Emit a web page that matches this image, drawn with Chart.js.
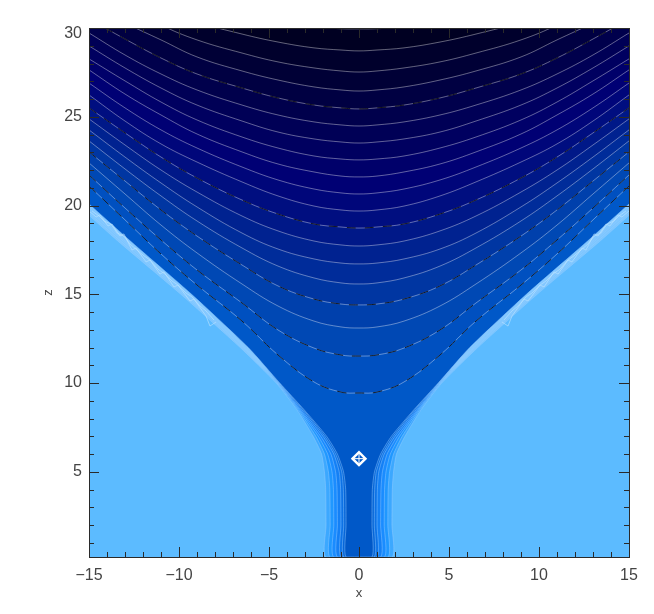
<!DOCTYPE html>
<html lang="en">
<head>
    <meta charset="UTF-8">
    <title>Contours x-z</title>
    <script src="https://cdn.jsdelivr.net/npm/chart.js"></script>
    <style>
        body { margin: 0; background: #ffffff; }
        canvas { display: block; }
    </style>
</head>
<body>
    <canvas id="chart" width="654" height="614"></canvas>

    <script>
        const xTicks = [-15, -10, -5, 0, 5, 10, 15];
        const zTicks = [5, 10, 15, 20, 25, 30];

        // left half of the contours, the picture is mirrored around x = 0
        const xGrid = [-15, -13, -11, -9, -6.5, -4.5, -2.5, -1, 0];
        const z00 = [34.96, 33.83, 32.71, 31.58, 30.85, 30.40, 30.06, 29.96, 29.95];
        const z01 = [33.27, 32.03, 31.13, 30.34, 29.66, 29.21, 28.88, 28.76, 28.71];
        const z02 = [32.43, 31.30, 30.17, 29.33, 28.59, 28.09, 27.75, 27.58, 27.52];
        const z03 = [31.30, 30.28, 29.33, 28.37, 27.58, 27.07, 26.68, 26.51, 26.45];
        const z04 = [30.51, 29.38, 28.31, 27.41, 26.62, 26.06, 25.66, 25.50, 25.44];
        const z05 = [29.72, 28.48, 27.41, 26.51, 25.66, 25.10, 24.71, 24.54, 24.48];
        const z06 = [28.99, 27.75, 26.62, 25.66, 24.76, 24.14, 23.75, 23.58, 23.52];
        const z07 = [28.26, 27.02, 25.83, 24.82, 23.86, 23.24, 22.79, 22.62, 22.57];
        const z08 = [27.64, 26.28, 25.10, 24.03, 23.02, 22.34, 21.89, 21.66, 21.61];
        const z09 = [26.90, 25.50, 24.26, 23.24, 22.17, 21.44, 20.93, 20.71, 20.65];
        const z10 = [26.23, 24.76, 23.47, 22.45, 21.33, 20.54, 19.97, 19.75, 19.69];
        const z11 = [25.50, 24.09, 22.73, 21.55, 20.31, 19.52, 18.96, 18.79, 18.73];
        const z12 = [24.88, 23.41, 22.00, 20.76, 19.41, 18.57, 18.00, 17.78, 17.72];
        const z13 = [24.26, 22.73, 21.27, 19.92, 18.45, 17.55, 16.99, 16.76, 16.71];
        const z14 = [23.64, 22.06, 20.54, 19.13, 17.61, 16.59, 15.92, 15.64, 15.58];
        const z15 = [23.02, 21.38, 19.75, 18.28, 16.65, 15.47, 14.73, 14.45, 14.40];
        const z16 = [22.40, 20.65, 18.90, 17.33, 15.58, 14.34, 13.49, 13.16, 13.10];
        const z17 = [21.72, 19.86, 18.06, 16.37, 14.51, 12.99, 11.97, 11.58, 11.52];
        const z18 = [21.10, 19.19, 17.27, 15.52, 13.49, 11.58, 10.06, 9.49, 9.44];

        // the walls around the column, x read at fixed heights
        const zRows = [22, 18, 15, 12, 10, 8.5, 7, 6, 5, 4, 2, 0.2];
        const wall0 = [-17.8, -13.4, -9.9, -6.6, -4.6, -3.45, -2.55, -2.08, -1.92, -1.85, -1.83, -1.83];
        const wall1 = [-17.65, -13.25, -9.75, -6.5, -4.55, -3.38, -2.4, -1.92, -1.7, -1.62, -1.6, -1.6];
        const wall2 = [-17.5, -13.1, -9.65, -6.42, -4.52, -3.32, -2.26, -1.74, -1.5, -1.42, -1.4, -1.4];
        const wall3 = [-17.4, -13, -9.55, -6.35, -4.5, -3.26, -2.13, -1.56, -1.3, -1.22, -1.2, -1.2];
        const wall4 = [-17.3, -12.9, -9.45, -6.28, -4.46, -3.18, -2.0, -1.4, -1.1, -1.02, -1, -1];
        const wall5 = [-17.2, -12.8, -9.38, -6.2, -4.43, -3.1, -1.9, -1.3, -0.96, -0.87, -0.85, -0.85];
        const wall6 = [-17.1, -12.7, -9.3, -6.15, -4.4, -3.05, -1.8, -1.2, -0.86, -0.74, -0.72, -0.72];

        // pale jagged edge of the walls higher up
        const jagAx = [-15, -14.61, -14.39, -13.94, -13.72, -13.28, -13.06, -12.61, -12.39, -11.83, -11.61, -11.06, -10.83, -10.28, -10.06, -9.39, -9.17, -8.5, -8.28, -7.94];
        const jagAz = [19.69, 19.35, 19.47, 18.85, 18.96, 18.28, 18.40, 17.49, 17.61, 16.82, 16.93, 16.14, 16.26, 15.41, 15.52, 14.62, 14.73, 13.78, 13.21, 13.44];
        const jagBx = [-14.83, -14.44, -14.17, -13.78, -13.44, -13.06, -12.72, -12.33, -11.94, -11.61, -11.17, -10.78, -10.39, -10.06, -9.61, -9.28, -8.83, -8.5, -8.06];
        const jagBz = [19.69, 19.41, 19.13, 18.96, 18.45, 18.28, 17.83, 17.49, 17.16, 16.93, 16.42, 16.14, 15.75, 15.52, 15.07, 14.85, 14.34, 14.06, 13.55];

        const wallRows = [wall0, wall1, wall2, wall3, wall4, wall5, wall6];
        const levelRows = [z18, z17, z16, z15, z14, z13, z12, z11, z10, z09, z08, z07, z06, z05, z04, z03, z02, z01, z00];

        const floorColor = '#5cbbff';
        const paleWallColor = '#7cc6ff';
        const wallColors = ['#3ca8ff', '#2098ff', '#1a8cff', '#1480f5', '#0c72e6', '#0666d8', '#0058c8'];
        const levelColors = ['#0050c0', '#0048b4', '#0040ac', '#0036a2', '#002c9a', '#002290', '#001888', '#000e80',
            '#00067a', '#000074', '#00006a', '#000060', '#000056', '#00004c', '#000042', '#000036', '#00002c', '#000022', '#000018'];
        const dashedLevels = [0, 1, 3, 7, 14]; // positions in levelRows

        const xNull = [0];
        const zNull = [5.74];

        function mirrored(xs, zs) {
            const left = xs.map((x, i) => ({ x: x, y: zs[i] }));
            const right = left.slice().reverse().filter(p => p.x !== 0).map(p => ({ x: -p.x, y: p.y }));
            return left.concat(right);
        }

        // the wall bands turn pale above the narrow part of the column
        function wallFill(chart, color) {
            const yScale = chart.scales.y;
            if (!chart.chartArea || !yScale) return color;
            const g = chart.ctx.createLinearGradient(0, yScale.getPixelForValue(11), 0, yScale.getPixelForValue(9));
            g.addColorStop(0, paleWallColor);
            g.addColorStop(1, color);
            return g;
        }

        const datasets = [];
        let layer = 1000;

        // light ground first, every next band is painted above its contour
        datasets.push({
            data: [{ x: -15, y: 0.2 }, { x: 15, y: 0.2 }],
            showLine: true, fill: 'end', backgroundColor: floorColor, borderWidth: 0, pointRadius: 0, order: layer--
        });

        wallRows.forEach((row, i) => {
            datasets.push({
                data: mirrored(row, zRows),
                showLine: true, fill: 'end',
                backgroundColor: i < wallRows.length - 1 ? (c => wallFill(c.chart, wallColors[i])) : wallColors[i],
                borderColor: 'rgba(150, 205, 255, 0.45)', borderWidth: 1,
                pointRadius: 0, tension: 0.2, order: layer--
            });
        });

        levelRows.forEach((row, i) => {
            datasets.push({
                data: mirrored(xGrid, row),
                showLine: true, fill: 'end', backgroundColor: levelColors[i],
                borderColor: 'rgba(255, 255, 255, 0.38)', borderWidth: 1,
                pointRadius: 0, tension: 0.4, order: layer--
            });
        });

        // black dashes on top of every dashed contour
        dashedLevels.forEach(i => {
            datasets.push({
                data: mirrored(xGrid, levelRows[i]),
                showLine: true, fill: false, borderColor: 'rgba(0, 0, 0, 0.8)', borderWidth: 1, borderDash: [9, 9],
                pointRadius: 0, tension: 0.4, order: 3
            });
        });

        // jagged edge, both sides
        [[jagAx, jagAz], [jagBx, jagBz]].forEach(pair => {
            [1, -1].forEach(side => {
                datasets.push({
                    data: pair[0].map((x, i) => ({ x: x * side, y: pair[1][i] })),
                    showLine: true, fill: false, borderColor: 'rgba(190, 228, 255, 0.6)', borderWidth: 1,
                    pointRadius: 0, order: 4
                });
            });
        });

        // null point marker
        datasets.push({
            data: [{ x: xNull[0], y: zNull[0] }],
            showLine: false, pointStyle: 'rectRot', pointRadius: 6.5, pointBorderWidth: 2.4,
            pointBorderColor: '#ffffff', pointBackgroundColor: 'rgba(0, 0, 0, 0)', order: 1
        });
        datasets.push({
            data: [{ x: xNull[0], y: zNull[0] }],
            showLine: false, pointStyle: 'cross', pointRadius: 5, pointBorderWidth: 1,
            pointBorderColor: '#ffffff', order: 0
        });

        // ticks point inwards on all four sides, like the frame of the original plot
        const frameTicks = {
            id: 'frameTicks',
            afterDatasetsDraw(chart) {
                const { ctx, chartArea: a, scales } = chart;
                ctx.save();
                ctx.strokeStyle = '#2a2a2a';
                ctx.lineWidth = 1;
                ctx.beginPath();
                for (let v = -15; v <= 15; v++) {
                    const len = v % 5 === 0 ? 10 : 5;
                    const px = Math.round(scales.x.getPixelForValue(v)) + 0.5;
                    ctx.moveTo(px, a.bottom); ctx.lineTo(px, a.bottom - len);
                    ctx.moveTo(px, a.top); ctx.lineTo(px, a.top + len);
                }
                for (let v = 1; v <= 30; v++) {
                    const len = v % 5 === 0 ? 10 : 5;
                    const py = Math.round(scales.y.getPixelForValue(v)) + 0.5;
                    ctx.moveTo(a.left, py); ctx.lineTo(a.left + len, py);
                    ctx.moveTo(a.right, py); ctx.lineTo(a.right - len, py);
                }
                ctx.stroke();
                ctx.strokeRect(a.left + 0.5, a.top + 0.5, a.right - a.left, a.bottom - a.top);
                ctx.restore();
            }
        };

        const labelFont = { family: '"Liberation Sans", Arial, sans-serif', size: 16 };
        const titleFont = { family: '"Liberation Sans", Arial, sans-serif', size: 13 };

        new Chart(document.getElementById('chart').getContext('2d'), {
            type: 'scatter',
            data: { datasets: datasets },
            plugins: [frameTicks],
            options: {
                responsive: false,
                animation: false,
                layout: { padding: { top: 28, right: 25, left: 0, bottom: 0 } },
                plugins: { legend: { display: false }, tooltip: { enabled: false } },
                scales: {
                    x: {
                        type: 'linear', min: -15, max: 15,
                        grid: { display: false, drawTicks: false }, border: { display: false },
                        afterBuildTicks: s => { s.ticks = xTicks.map(v => ({ value: v })); },
                        afterFit: s => { s.height = 57; },
                        ticks: {
                            autoSkip: false, maxRotation: 0, color: '#444444', font: labelFont, padding: 9,
                            callback: v => String(v).replace('-', '\u2212')
                        },
                        title: { display: true, text: 'x', color: '#444444', font: titleFont, padding: { top: 0, bottom: 13 } }
                    },
                    y: {
                        type: 'linear', min: 0.2, max: 30,
                        grid: { display: false, drawTicks: false }, border: { display: false },
                        afterBuildTicks: s => { s.ticks = zTicks.map(v => ({ value: v })); },
                        afterFit: s => { s.width = 89; },
                        ticks: {
                            autoSkip: false, color: '#444444', padding: 7,
                            // the top label sits a little below its tick
                            font: c => (c.tick && c.tick.value === 30) ? { ...labelFont, lineHeight: '11px' } : labelFont,
                            callback: v => v === 30 ? ['', '30'] : String(v)
                        },
                        title: { display: true, text: 'z', color: '#444444', font: titleFont, padding: { top: 41, bottom: 0 } }
                    }
                }
            }
        });
    </script>
</body>
</html>
